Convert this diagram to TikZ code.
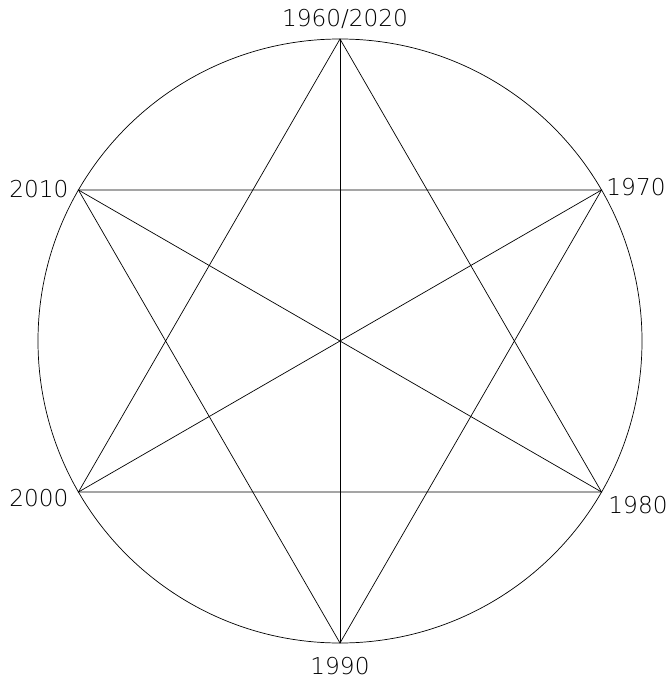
\documentclass[tikz,border=0pt]{standalone}
\usepackage{fontspec}
\setmainfont{DejaVu Sans ExtraLight}

\begin{document}
\begin{tikzpicture}[
  x=0.025cm, y=-0.025cm,
  every node/.style={font=\fontsize{16.5}{18}\selectfont, inner sep=0pt},
  chord/.style={draw=black, line width=0.5pt},
  ring/.style={draw=black, line width=0.5pt}
]
  \useasboundingbox (0,0) rectangle (667,682);

  % Centre and the six points on the ring.
  \coordinate (ctr) at (340,341);
  \foreach \ang/\nm in {90/v1960, 30/v1970, -30/v1980, -90/v1990, -150/v2000, 150/v2010} {
    \coordinate (\nm) at ({340+302*cos(\ang)},{341-302*sin(\ang)});
  }

  \draw[ring] (ctr) circle (302);

  % Two triangles.
  \draw[chord] (v1960) -- (v1980) -- (v2000) -- cycle;
  \draw[chord] (v2010) -- (v1970) -- (v1990) -- cycle;

  % Diameters.
  \draw[chord] (v1960) -- (v1990);
  \draw[chord] (v2010) -- (v1980);
  \draw[chord] (v1970) -- (v2000);

  % Year labels.
  \node (t1960) at (345,19) {1960/2020};
  \node (t1970) at (636,187) {1970};
  \node (t1980) at (638,505) {1980};
  \node (t1990) at (340,666) {1990};
  \node (t2000) at (39,498) {2000};
  \node (t2010) at (39,189) {2010};
\end{tikzpicture}
\end{document}
